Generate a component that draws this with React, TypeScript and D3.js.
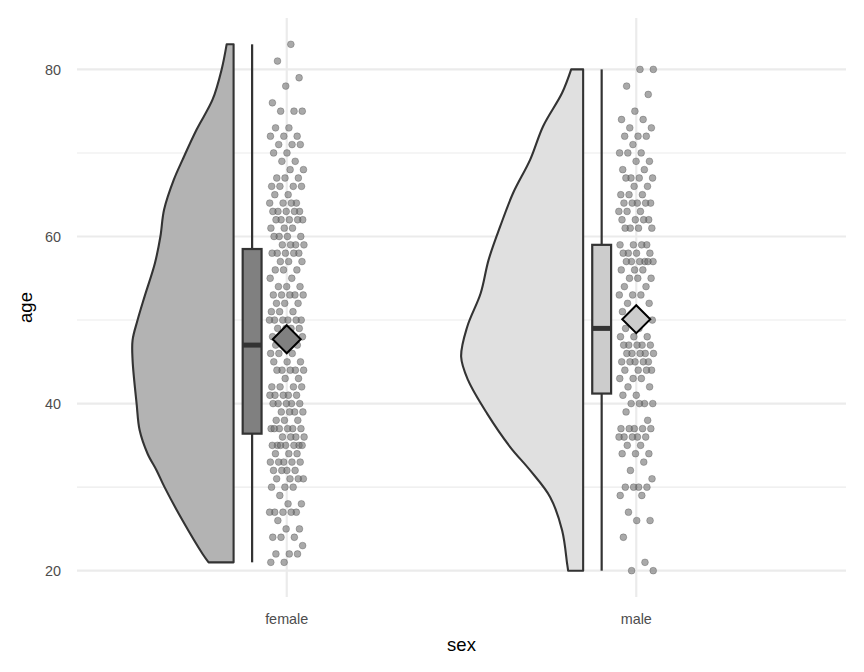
import { useMemo } from 'react'
import * as d3 from 'd3'

document.body.style.margin = '0'

// categories
const groups = ['female', 'male']

// half-violin outline (age, relative width; 1 = widest)
const femaleDensAge = [21, 22, 26, 30, 32, 34, 36.8, 40, 45.2, 47.6, 50, 52.8, 56.8, 60, 63.2, 66.8, 69.2, 72.8, 76.4, 80, 83]
const femaleDensW = [0.205, 0.254, 0.418, 0.566, 0.631, 0.705, 0.77, 0.795, 0.828, 0.828, 0.787, 0.73, 0.645, 0.6, 0.57, 0.49, 0.418, 0.303, 0.172, 0.098, 0.057]
const maleDensAge = [20, 20.8, 24.8, 28.8, 32, 34.8, 38.8, 42.8, 45.6, 49.2, 53.2, 57.2, 61.2, 65.2, 69.2, 73.2, 77.2, 80]
const maleDensW = [0.123, 0.131, 0.172, 0.27, 0.434, 0.598, 0.787, 0.943, 1.0, 0.95, 0.84, 0.775, 0.68, 0.574, 0.434, 0.328, 0.172, 0.098]

// boxplot summaries and means
const whiskerLow = [21, 20]
const boxQ1 = [36.4, 41.2]
const boxMedian = [47, 49]
const boxQ3 = [58.5, 59]
const whiskerHigh = [83, 80]
const groupMeans = [47.7, 50.1]

// raw points: [age, count]
const femaleAges: [number, number][] = [
  [83, 1], [81, 1], [79, 1], [78, 1], [76, 1], [75, 3], [73, 2], [72, 3], [71, 3], [70, 2],
  [69, 2], [68, 2], [67, 3], [66, 4], [65, 2], [64, 4], [63, 5], [62, 5], [61, 3], [60, 4],
  [59, 4], [58, 5], [57, 3], [56, 3], [55, 2], [54, 3], [53, 5], [52, 3], [51, 3], [50, 6],
  [49, 4], [48, 4], [47, 4], [46, 3], [45, 3], [44, 5], [43, 2], [42, 4], [41, 5], [40, 5],
  [39, 4], [38, 3], [37, 6], [36, 4], [35, 7], [34, 3], [33, 5], [32, 4], [31, 4], [30, 3],
  [29, 1], [28, 2], [27, 5], [26, 1], [25, 2], [24, 3], [23, 1], [22, 3], [21, 2],
]
const maleAges: [number, number][] = [
  [80, 2], [78, 1], [77, 1], [75, 1], [74, 2], [73, 2], [72, 3], [71, 1], [70, 3], [69, 2],
  [68, 2], [67, 4], [66, 2], [65, 3], [64, 5], [63, 3], [62, 4], [61, 4], [59, 4], [58, 4],
  [57, 6], [56, 3], [55, 3], [54, 2], [53, 3], [52, 2], [51, 2], [50, 3], [49, 2], [48, 3],
  [47, 5], [46, 5], [45, 5], [44, 4], [43, 3], [42, 2], [41, 2], [40, 4], [39, 1], [38, 1],
  [37, 5], [36, 5], [35, 2], [34, 3], [33, 1], [32, 1], [31, 1], [30, 4], [29, 2], [27, 1],
  [26, 2], [24, 1], [21, 1], [20, 2],
]

const yTicks = [20, 40, 60, 80]
const yMinor = [30, 50, 70]

const violinFill = ['#b3b3b3', '#e0e0e0']
const boxFill = ['#808080', '#cccccc']

const W = 864
const H = 672
const margin = { top: 18, right: 18, bottom: 75, left: 77 }

export default function App() {
  const x = d3.scaleLinear().domain([0.4, 2.6]).range([margin.left, W - margin.right])
  const y = d3.scaleLinear().domain([16.85, 86.15]).range([H - margin.bottom, margin.top])
  const unit = x(2) - x(1)
  const wScale = d3.scaleLinear().domain([0, 1]).range([0, 122])

  const dens = [
    femaleDensAge.map((a, i) => ({ age: a, w: femaleDensW[i] })),
    maleDensAge.map((a, i) => ({ age: a, w: maleDensW[i] })),
  ]

  const points = useMemo(() => {
    const out: { g: number; age: number; j: number }[] = []
    ;[femaleAges, maleAges].forEach((list, g) => {
      let k = 0
      list.forEach(([age, n]) => {
        for (let c = 0; c < n; c++) {
          // deterministic spread (golden-ratio sequence) in place of random jitter
          const f = ((k + 1) * 0.6180339887 + g * 0.37) % 1
          out.push({ g, age, j: f * 2 - 1 })
          k++
        }
      })
    })
    return out
  }, [])

  const font = '"Liberation Sans", Arial, sans-serif'
  const top = margin.top
  const bottom = H - margin.bottom

  return (
    <svg width={W} height={H} style={{ display: 'block', background: '#fff' }} fontFamily={font}>
      {/* grid */}
      {yMinor.map((t) => (
        <line key={'mn' + t} x1={margin.left} x2={W - margin.right} y1={y(t)} y2={y(t)} stroke="#ebebeb" strokeWidth={1.1} />
      ))}
      {yTicks.map((t) => (
        <line key={'mj' + t} x1={margin.left} x2={W - margin.right} y1={y(t)} y2={y(t)} stroke="#ebebeb" strokeWidth={2.2} />
      ))}
      {groups.map((g, i) => (
        <line key={'vg' + g} x1={x(i + 1)} x2={x(i + 1)} y1={top} y2={bottom} stroke="#ebebeb" strokeWidth={2.2} />
      ))}

      {/* half violins */}
      {groups.map((g, i) => {
        const right = x(i + 1) - 0.152 * unit
        const area = d3
          .area<{ age: number; w: number }>()
          .y((d) => y(d.age))
          .x0(right)
          .x1((d) => right - wScale(d.w))
          .curve(d3.curveCatmullRom)
        return (
          <path key={'v' + g} d={area(dens[i]) || ''} fill={violinFill[i]} stroke="#333333" strokeWidth={2.1} strokeLinejoin="round" />
        )
      })}

      {/* boxplots */}
      {groups.map((g, i) => {
        const cx = x(i + 1) - 0.099 * unit
        const bw = 0.054 * unit
        return (
          <g key={'b' + g} stroke="#333333">
            <line x1={cx} x2={cx} y1={y(whiskerHigh[i])} y2={y(boxQ3[i])} strokeWidth={2.2} />
            <line x1={cx} x2={cx} y1={y(boxQ1[i])} y2={y(whiskerLow[i])} strokeWidth={2.2} />
            <rect x={cx - bw / 2} y={y(boxQ3[i])} width={bw} height={y(boxQ1[i]) - y(boxQ3[i])} fill={boxFill[i]} strokeWidth={2.2} />
            <line x1={cx - bw / 2} x2={cx + bw / 2} y1={y(boxMedian[i])} y2={y(boxMedian[i])} strokeWidth={5} />
          </g>
        )
      })}

      {/* jittered points */}
      <g>
        {points.map((p, k) => (
          <circle
            key={k}
            cx={x(p.g + 1) + p.j * 0.05 * unit}
            cy={y(p.age)}
            r={3.4}
            fill="#6a6a6a"
            fillOpacity={0.58}
            stroke="#333333"
            strokeOpacity={0.4}
            strokeWidth={0.7}
          />
        ))}
      </g>

      {/* means */}
      {groups.map((g, i) => {
        const cx = x(i + 1)
        const cy = y(groupMeans[i])
        const r = 14
        return (
          <path
            key={'m' + g}
            d={`M${cx},${cy - r}L${cx + r},${cy}L${cx},${cy + r}L${cx - r},${cy}Z`}
            fill={boxFill[i]}
            stroke="#000"
            strokeWidth={2}
            strokeLinejoin="miter"
          />
        )
      })}

      {/* axis labels */}
      {yTicks.map((t) => (
        <text key={'yt' + t} x={margin.left - 16} y={y(t)} dy="0.36em" textAnchor="end" fontSize={14.4} fill="#4d4d4d">
          {t}
        </text>
      ))}
      {groups.map((g, i) => (
        <text key={'xt' + g} x={x(i + 1)} y={624} textAnchor="middle" fontSize={14.4} fill="#4d4d4d">
          {g}
        </text>
      ))}
      <text x={(margin.left + W - margin.right) / 2} y={651} textAnchor="middle" fontSize={18.5} fill="#000">
        sex
      </text>
      <text transform={`translate(32,${(top + bottom) / 2}) rotate(-90)`} textAnchor="middle" fontSize={18.5} fill="#000">
        age
      </text>
    </svg>
  )
}
